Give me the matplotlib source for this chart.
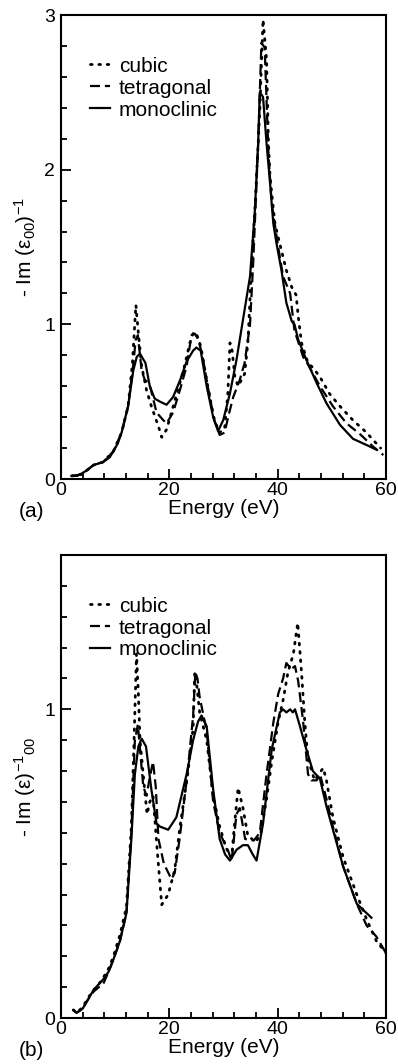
import matplotlib
matplotlib.use("Agg")
import matplotlib.pyplot as plt
from matplotlib.ticker import MultipleLocator

plt.rcParams['font.family'] = ['Liberation Sans', 'DejaVu Sans']
plt.rcParams['mathtext.fontset'] = 'custom'
plt.rcParams['mathtext.rm'] = 'Liberation Sans'
plt.rcParams['mathtext.it'] = 'Liberation Sans:italic'

labels = ["cubic", "tetragonal", "monoclinic"]

# ---- panel (a) ----
cubic_a_e = [2.0, 3.8, 6.0, 7.8, 9.7, 11.2, 12.4, 13.2, 13.84, 14.3, 14.9, 15.8, 16.7, 18.0, 18.6,
             19.5, 20.4, 21.2, 22.6, 23.8, 24.5, 25.0, 25.8, 27.0, 28.2, 29.2, 30.2, 30.8, 31.2,
             31.6, 32.1, 32.7, 33.9, 34.5, 35.1, 35.8, 36.7, 37.3, 37.95, 38.3, 38.6, 39.5, 40.4,
             41.6, 42.6, 43.4, 43.8, 44.4, 45.6, 46.5, 47.8, 49.6, 51.5, 53.9, 56.4, 58.2, 59.0]
cubic_a = [0.02, 0.03, 0.09, 0.11, 0.18, 0.30, 0.47, 0.75, 1.125, 0.94, 0.73, 0.575, 0.47, 0.34, 0.27,
           0.32, 0.43, 0.53, 0.70, 0.88, 0.95, 0.94, 0.86, 0.62, 0.40, 0.30, 0.32, 0.55, 0.88,
           0.83, 0.66, 0.60, 0.68, 0.88, 1.31, 1.74, 2.38, 2.97, 2.71, 2.17, 1.95, 1.65, 1.52,
           1.35, 1.24, 1.19, 1.05, 0.88, 0.75, 0.72, 0.66, 0.55, 0.47, 0.38, 0.30, 0.23, 0.20]

tet_a_e = [2.0, 3.8, 6.0, 7.8, 9.7, 11.2, 12.4, 13.3, 13.8, 14.2, 14.9, 15.5, 16.3, 16.8, 17.65,
           18.9, 19.5, 20.7, 22.0, 23.2, 24.1, 24.7, 25.4, 26.2, 27.2, 28.3, 29.3, 30.2, 31.0,
           31.8, 33.0, 33.9, 34.9, 35.5, 36.4, 37.0, 37.6, 38.3, 38.9, 40.1, 41.0, 42.3, 43.1,
           44.7, 45.6, 47.8, 50.2, 52.7, 55.2, 57.6, 59.5]
tet_a = [0.02, 0.03, 0.09, 0.11, 0.18, 0.30, 0.47, 0.72, 0.90, 0.93, 0.70, 0.64, 0.62, 0.55, 0.43,
         0.38, 0.36, 0.43, 0.58, 0.73, 0.93, 0.94, 0.90, 0.78, 0.58, 0.38, 0.285, 0.30, 0.42,
         0.53, 0.64, 0.75, 1.0, 1.41, 2.17, 2.82, 2.79, 2.10, 1.78, 1.50, 1.31, 1.20, 0.96,
         0.79, 0.74, 0.60, 0.47, 0.36, 0.29, 0.21, 0.155]

mono_a_e = [2.0, 3.0, 3.8, 5.0, 6.0, 7.8, 9.0, 9.7, 10.5, 11.2, 12.4, 13.35, 14.0, 14.6, 15.6, 16.4,
            17.3, 18.3, 19.5, 20.7, 22.0, 23.2, 24.4, 25.0, 25.8, 26.9, 28.1, 29.0, 29.95, 31.2,
            32.4, 33.6, 34.9, 35.8, 36.4, 36.7, 37.3, 37.95, 38.6, 39.2, 39.8, 40.7, 41.6, 42.6,
            43.1, 43.8, 45.3, 47.2, 49.0, 51.5, 53.9, 56.4, 58.2]
mono_a = [0.02, 0.02, 0.035, 0.06, 0.09, 0.11, 0.14, 0.18, 0.23, 0.30, 0.47, 0.70, 0.79, 0.81, 0.75, 0.60,
          0.52, 0.50, 0.48, 0.53, 0.64, 0.76, 0.83, 0.85, 0.83, 0.60, 0.40, 0.31, 0.38, 0.555,
          0.77, 1.03, 1.31, 1.74, 2.17, 2.50, 2.47, 2.17, 1.91, 1.65, 1.52, 1.35, 1.14, 1.02,
          1.0, 0.90, 0.77, 0.62, 0.49, 0.35, 0.26, 0.22, 0.19]

# ---- panel (b) ----
cubic_b_e = [2.3, 2.9, 4.0, 5.0, 6.0, 7.0, 7.8, 8.8, 9.7, 10.9, 12.1, 13.0, 13.5, 13.95, 14.3, 14.6,
             15.4, 15.9, 16.4, 17.0, 17.7, 18.6, 19.8, 21.0, 21.9, 23.4, 24.4, 24.7, 25.0, 25.6,
             26.9, 28.1, 29.3, 30.5, 31.5, 32.0, 32.7, 33.6, 34.5, 36.0, 36.9, 37.95, 38.9, 40.1,
             41.0, 41.9, 42.9, 43.7, 44.4, 45.0, 45.6, 46.8, 47.6, 48.4, 49.0, 50.2, 52.1, 54.6,
             56.4, 58.2, 60.0]
cubic_b = [0.026, 0.017, 0.035, 0.065, 0.09, 0.11, 0.13, 0.16, 0.20, 0.27, 0.36, 0.62, 0.90, 1.18, 1.05, 0.90,
           0.75, 0.66, 0.70, 0.72, 0.56, 0.367, 0.40, 0.48, 0.61, 0.79, 0.94, 1.12, 1.09, 0.99,
           0.90, 0.72, 0.62, 0.55, 0.52, 0.62, 0.746, 0.68, 0.59, 0.57, 0.60, 0.71, 0.83, 0.96,
           1.03, 1.12, 1.18, 1.28, 1.12, 0.96, 0.84, 0.77, 0.79, 0.81, 0.77, 0.65, 0.52, 0.40,
           0.32, 0.25, 0.21]

tet_b_e = [2.3, 2.9, 4.0, 5.0, 6.0, 7.0, 7.8, 8.8, 9.7, 10.9, 12.1, 13.0, 13.65, 14.2, 14.7, 15.2,
           15.8, 16.4, 17.0, 17.5, 18.0, 19.0, 20.4, 21.0, 21.9, 23.4, 24.4, 24.8, 25.2, 25.6,
           26.9, 28.1, 29.3, 30.9, 31.5, 32.4, 33.0, 34.0, 35.6, 36.7, 37.95, 39.2, 40.1, 41.0,
           41.6, 42.5, 43.2, 43.8, 44.7, 45.6, 46.2, 47.2, 47.8, 49.0, 50.2, 52.1, 54.6, 56.4,
           58.2, 60.0]
tet_b = [0.026, 0.017, 0.03, 0.06, 0.085, 0.10, 0.11, 0.15, 0.19, 0.25, 0.34, 0.60, 0.90, 0.95, 0.85, 0.75,
         0.72, 0.78, 0.83, 0.75, 0.58, 0.50, 0.45, 0.47, 0.58, 0.80, 0.98, 1.12, 1.10, 1.04,
         0.93, 0.70, 0.60, 0.54, 0.51, 0.66, 0.68, 0.58, 0.575, 0.60, 0.79, 0.957, 1.05, 1.10,
         1.15, 1.13, 1.14, 1.09, 0.96, 0.79, 0.77, 0.77, 0.79, 0.71, 0.62, 0.49, 0.37, 0.30,
         0.264, 0.21]

mono_b_e = [2.3, 2.9, 4.0, 5.0, 6.0, 7.0, 7.8, 8.8, 9.7, 10.9, 12.1, 13.0, 13.65, 14.3, 14.9, 15.7,
            16.7, 17.65, 18.3, 19.8, 21.3, 23.2, 24.4, 25.3, 25.95, 26.9, 28.1, 29.3, 30.3, 31.2,
            32.4, 33.6, 34.5, 35.4, 36.1, 37.3, 38.9, 40.4, 41.0, 41.6, 42.3, 42.8, 43.2, 44.1,
            45.3, 46.5, 47.8, 49.0, 50.2, 52.1, 54.6, 55.8, 57.3]
mono_b = [0.026, 0.017, 0.03, 0.06, 0.09, 0.11, 0.125, 0.15, 0.19, 0.25, 0.34, 0.58, 0.79, 0.88, 0.905, 0.88,
          0.74, 0.63, 0.62, 0.61, 0.65, 0.79, 0.90, 0.96, 0.98, 0.945, 0.74, 0.58, 0.53, 0.51,
          0.545, 0.56, 0.56, 0.53, 0.51, 0.63, 0.87, 0.99, 1.0, 0.99, 1.0, 0.99, 1.0, 0.946,
          0.87, 0.80, 0.775, 0.686, 0.61, 0.49, 0.37, 0.35, 0.325]

styles = [dict(linestyle=(0, (0.6, 2.4)), linewidth=2.0, dash_capstyle='round'),
          dict(linestyle=(0, (4.5, 2.2)), linewidth=1.6),
          dict(linestyle='-', linewidth=1.6)]

fig = plt.figure(figsize=(3.98, 10.64), dpi=100)
ax_a = fig.add_axes([0.153, 0.5498, 0.817, 0.4361])
ax_b = fig.add_axes([0.153, 0.0432, 0.817, 0.4352])


def draw(ax, series, ymax, ymajor, yminor, ylabel, tag):
    for (e, v), lab, st in zip(series, labels, styles):
        ax.plot(e, v, color='black', label=lab, **st)
    ax.set_xlim(0, 60)
    ax.set_ylim(0, ymax)
    ax.xaxis.set_major_locator(MultipleLocator(20))
    ax.xaxis.set_minor_locator(MultipleLocator(4))
    ax.yaxis.set_major_locator(MultipleLocator(ymajor))
    ax.yaxis.set_minor_locator(MultipleLocator(yminor))
    ax.tick_params(which='both', direction='in', top=False, right=False,
                   labelsize=14, width=1.3)
    ax.tick_params(axis='x', pad=2)
    ax.tick_params(axis='y', pad=4)
    ax.tick_params(which='major', length=7)
    ax.tick_params(which='minor', length=4)
    for sp in ax.spines.values():
        sp.set_linewidth(1.5)
    ax.set_xlabel("Energy (eV)", fontsize=15, labelpad=0)
    ax.set_ylabel(ylabel, fontsize=15, labelpad=5)
    ax.legend(loc='upper left', bbox_to_anchor=(0.089, 0.91), frameon=False,
              fontsize=15, handlelength=0.95, handletextpad=0.45, labelspacing=0.14,
              borderpad=0, borderaxespad=0)
    ax.text(-0.09, -0.07, tag, transform=ax.transAxes, fontsize=15,
            ha='center', va='center')


draw(ax_a, [(cubic_a_e, cubic_a), (tet_a_e, tet_a), (mono_a_e, mono_a)],
     3, 1, 0.2, "- Im (ε$_{00}$)$^{-1}$", "(a)")
draw(ax_b, [(cubic_b_e, cubic_b), (tet_b_e, tet_b), (mono_b_e, mono_b)],
     1.5, 1, 0.1, "- Im (ε)$^{-1}$$_{00}$", "(b)")

fig.savefig("out.png", dpi=100)
